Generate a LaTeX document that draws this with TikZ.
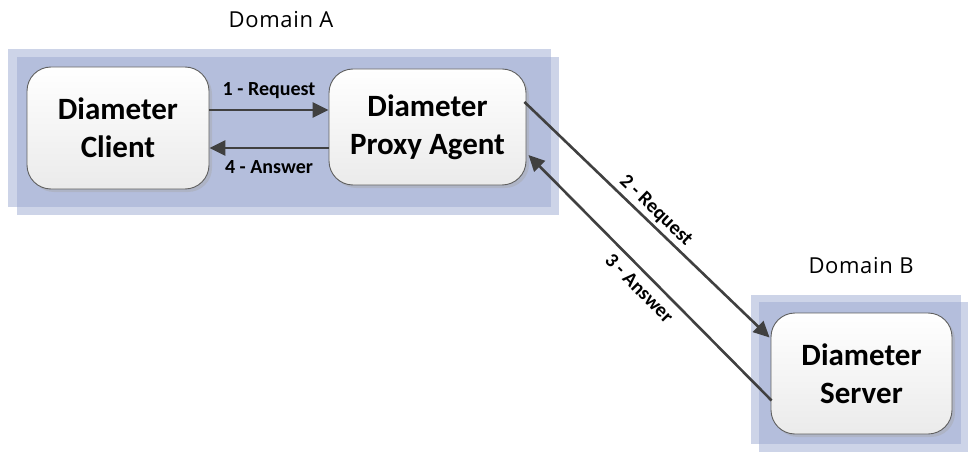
\documentclass[tikz,border=0pt]{standalone}
\usepackage{fontspec}
\setmainfont{Carlito}
\newfontfamily\domainfont[LetterSpace=3]{Open Sans}
\usetikzlibrary{arrows.meta,shadows,calc}

\definecolor{domainfill}{RGB}{155,169,209}
\definecolor{linegray}{RGB}{64,64,64}
\definecolor{boxedge}{RGB}{96,96,96}

\begin{document}
\begin{tikzpicture}[x=1pt,y=-1pt,
  domainrect/.style={fill=domainfill, fill opacity=0.5, draw=none},
  domainlabel/.style={anchor=base, inner sep=0pt, font=\domainfont\fontsize{22}{24}\selectfont},
  agent/.style={draw=boxedge, line width=0.9pt, rounded corners=24pt,
    top color=white, bottom color=black!8, inner sep=0pt,
    align=center, font=\fontsize{31}{38}\selectfont\bfseries,
    drop shadow={shadow xshift=3pt, shadow yshift=-3pt, fill=black!35, opacity=0.4}},
  msg/.style={draw=linegray, line width=2.6pt, -{Triangle[length=16pt,width=15pt]}},
  msglabel/.style={font=\fontsize{20}{22}\selectfont\bfseries, inner sep=2pt}
]
\useasboundingbox (0,0) rectangle (968,457);

% domain frames: two offset translucent layers
\fill[domainrect] (8,49) rectangle (551,207);
\fill[domainrect] (17,57) rectangle (559,215);
\fill[domainrect] (751,295) rectangle (961,444);
\fill[domainrect] (759,302) rectangle (968,452);

\node[domainlabel] (domA) at (281,28) {Domain A};
\node[domainlabel] (domB) at (861,273) {Domain B};

% agents
\node[agent, minimum width=182pt, minimum height=122pt] (client) at (118,128) {Diameter\\Client};
\node[agent, minimum width=197pt, minimum height=116pt] (proxy) at (427.5,127) {Diameter\\Proxy Agent};
\node[agent, minimum width=181pt, minimum height=121pt] (server) at (861.5,373.5) {Diameter\\Server};

% message levels
\coordinate (reqrow) at (0,110);
\coordinate (ansrow) at (0,148);

\draw[msg] (client.east |- reqrow) -- node[msglabel, above=8pt] {1 - Request} (proxy.west |- reqrow);
\draw[msg] (proxy.west |- ansrow) -- node[msglabel, below=9pt] {4 - Answer} (client.east |- ansrow);

\draw[msg] ($(proxy.east)+(-2,-25)$) -- node[msglabel, sloped, above=1pt] {2 - Request} ($(server.west)+(-1,-36)$);
\draw[msg] ($(server.west)+(1,27)$) -- node[msglabel, sloped, below=5pt] {3 - Answer} ($(proxy.east)+(2,28)$);
\end{tikzpicture}
\end{document}
